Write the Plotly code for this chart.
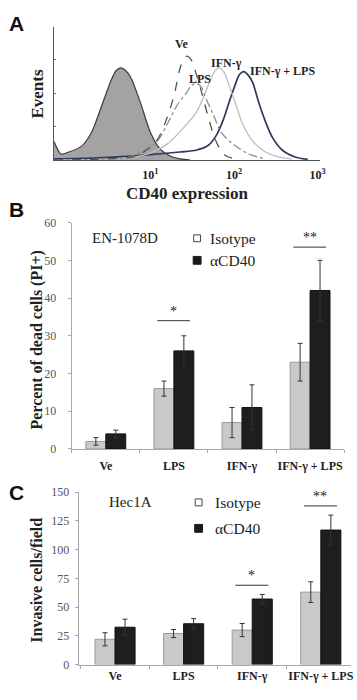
import plotly.graph_objects as go

W, H = 357, 700


def px(x):
    return x / W


def py(y):
    return 1 - y / H


SERIF = "Liberation Serif"
SANS = "Liberation Sans"

# ---------------- Panel A: flow cytometry histograms (CD40 intensity, events %) -------------
iso_x = [0.70, 0.76, 0.85, 1.06, 1.50, 1.97, 2.58, 3.38, 3.88, 4.44, 5.08, 5.82, 7.63, 10.0, 13.1, 17.2, 22.5, 29.6]
iso_y = [14, 9, 4.4, 5.9, 10.3, 20.6, 39.7, 59.6, 66.9, 69, 66.9, 61.8, 42.6, 20.6, 8.1, 2.9, 0.7, 0]

ve_x = [0.70, 2.38, 7.03, 9.22, 11.1, 13.1, 15.8, 19.2, 22.5, 24.4, 27.5, 31.2, 33.8, 40.9, 49.4, 58.2, 70.3, 80.5, 105.6]
ve_y = [0, 0.5, 3, 8.1, 11.8, 19.1, 31.6, 48.5, 68.4, 74.3, 77.9, 74.3, 68.4, 50.7, 31.6, 16.9, 6.6, 2.9, 0.5]

lps_x = [0.70, 2.38, 5.36, 9.22, 12.1, 15.8, 20.8, 27.2, 31.2, 35.7, 40.9, 44.4, 56.6, 70.3, 97.3, 150, 237.7]
lps_y = [0, 0.4, 2, 8, 14, 26.5, 41, 50.7, 55.9, 57.4, 54.5, 48.5, 33.8, 20.6, 11.8, 4.4, 0.7]

ifn_x = [0.70, 2.38, 5.36, 9.22, 15.8, 23.8, 35.7, 50.8, 58.2, 66.6, 76.3, 87.4, 105.6, 127.6, 167.4, 237.7, 338.3, 494.4]
ifn_y = [0, 0.3, 1.5, 4.4, 11.8, 22.8, 36, 58, 66.2, 69, 65.4, 55.9, 41.2, 26.5, 14, 5.9, 2.2, 0.7]

ifnlps_x = [0.70, 2.38, 9.22, 22.5, 35.7, 49.4, 61.4, 74.3, 87.4, 105.6, 114.6, 131.2, 150, 167.4, 196.8, 237.7, 287.6, 376.6, 535.9, 762.3]
ifnlps_y = [0.7, 1.5, 3.7, 5.9, 7.4, 11, 18.4, 30, 43.4, 58, 63.5, 66.2, 63, 58, 43.4, 28.7, 16.9, 7.4, 2.2, 0.4]

a_tickvals = [10, 100, 1000]
a_ticktext = ["10<sup>1</sup>", "10<sup>2</sup>", "10<sup>3</sup>"]

# ---------------- Panels B and C: bar charts ----------------
categories = ["Ve", "LPS", "IFN-γ", "IFN-γ + LPS"]
series_names = ["Isotype", "αCD40"]

b_iso = [2, 16, 7, 23]
b_iso_err = [1, 2, 4, 5]
b_cd40 = [4, 26, 11, 42]
b_cd40_err = [1, 4, 6, 8]
b_ticks = [0, 10, 20, 30, 40, 50, 60]

c_iso = [22, 27, 30, 63]
c_iso_err = [5.7, 3.5, 5.7, 9]
c_cd40 = [32.5, 35.5, 57, 117]
c_cd40_err = [7, 4.5, 4, 13]
c_ticks = [0, 25, 50, 75, 100, 125, 150]

# significance marks: (category index, bar-height value, label)
b_sig = [(1, 34, "*"), (3, 53.5, "**")]
c_sig = [(2, 69, "*"), (3, 138, "**")]

xpos = list(range(len(categories)))

ISO_COLOR = "#c9c9c9"
ISO_LINE = "#9a9a9a"
CD_COLOR = "#1e1e1e"
ERR_COLOR = "#333333"

fig = go.Figure()

# ---- Panel A traces ----
fig.add_trace(go.Scatter(x=iso_x, y=iso_y, mode="lines", line=dict(color="#3a3a3a", width=1.2, shape="spline", smoothing=0.8),
                         fill="tozeroy", fillcolor="#a3a3a3", xaxis="x", yaxis="y", showlegend=False, hoverinfo="skip"))
fig.add_trace(go.Scatter(x=ifnlps_x, y=ifnlps_y, mode="lines", line=dict(color="#2b3a5e", width=1.7, shape="spline", smoothing=0.8),
                         xaxis="x", yaxis="y", showlegend=False, name="IFN-γ + LPS"))
fig.add_trace(go.Scatter(x=ifn_x, y=ifn_y, mode="lines", line=dict(color="#bdbdbd", width=1.3, shape="spline", smoothing=0.8),
                         xaxis="x", yaxis="y", showlegend=False, name="IFN-γ"))
fig.add_trace(go.Scatter(x=lps_x, y=lps_y, mode="lines", line=dict(color="#888888", width=1.2, dash="dashdot", shape="spline", smoothing=0.8),
                         xaxis="x", yaxis="y", showlegend=False, name="LPS"))
fig.add_trace(go.Scatter(x=ve_x, y=ve_y, mode="lines", line=dict(color="#555555", width=1.3, dash="dash", shape="spline", smoothing=0.8),
                         xaxis="x", yaxis="y", showlegend=False, name="Ve"))

# ---- Panel B & C bars ----
for (iso, iso_e, cd, cd_e, xa, ya) in [(b_iso, b_iso_err, b_cd40, b_cd40_err, "x2", "y2"),
                                       (c_iso, c_iso_err, c_cd40, c_cd40_err, "x3", "y3")]:
    fig.add_trace(go.Bar(x=xpos, y=iso, name=series_names[0], marker=dict(color=ISO_COLOR, line=dict(color=ISO_LINE, width=1)),
                         error_y=dict(type="data", array=iso_e, color=ERR_COLOR, thickness=1, width=2.5),
                         xaxis=xa, yaxis=ya, showlegend=False, offsetgroup="iso"))
    fig.add_trace(go.Bar(x=xpos, y=cd, name=series_names[1], marker=dict(color=CD_COLOR, line=dict(color="#111111", width=1)),
                         error_y=dict(type="data", array=cd_e, color=ERR_COLOR, thickness=1, width=2.5),
                         xaxis=xa, yaxis=ya, showlegend=False, offsetgroup="cd"))

shapes = []
annotations = []

# significance lines and stars
for sig, xa, ya in [(b_sig, "x2", "y2"), (c_sig, "x3", "y3")]:
    for ci, yv, lab in sig:
        shapes.append(dict(type="line", xref=xa, yref=ya, x0=ci - 0.245, x1=ci + 0.235, y0=yv, y1=yv,
                           line=dict(color="#333333", width=1)))
        annotations.append(dict(xref=xa, yref=ya, x=ci - 0.005, y=yv, text=lab, showarrow=False, yanchor="bottom",
                                yshift=0, font=dict(family=SERIF, size=14, color="#222222")))

# Panel A curve labels
for txt, x, y, anchor in [("Ve", 185, 38, "center"), ("LPS", 203, 73, "center"), ("IFN-γ", 230, 57, "center"),
                          ("IFN-γ + LPS", 252, 65, "left")]:
    annotations.append(dict(xref="paper", yref="paper", x=px(x), y=py(y), text=txt, showarrow=False, xanchor=anchor,
                            yanchor="middle", font=dict(family=SERIF, size=12, color="#222222", weight="bold")))

# Panel letters
for txt, x, y in [("A", 17, 17), ("B", 17, 207), ("C", 17, 495)]:
    annotations.append(dict(xref="paper", yref="paper", x=px(x), y=py(y), text=txt, showarrow=False,
                            xanchor="center", yanchor="middle",
                            font=dict(family=SANS, size=21, color="#111111", weight="bold")))

# axis titles
annotations.append(dict(xref="paper", yref="paper", x=px(38), y=py(88), text="Events", showarrow=False, textangle=-90,
                        xanchor="center", yanchor="middle", font=dict(family=SERIF, size=17, color="#222222", weight="bold")))
annotations.append(dict(xref="paper", yref="paper", x=px(191), y=py(190), text="CD40 expression", showarrow=False,
                        xanchor="center", yanchor="middle", font=dict(family=SERIF, size=17, color="#222222", weight="bold")))
annotations.append(dict(xref="paper", yref="paper", x=px(38), y=py(340), text="Percent of dead cells (PI+)", showarrow=False,
                        textangle=-90, xanchor="center", yanchor="middle",
                        font=dict(family=SERIF, size=16, color="#222222", weight="bold")))
annotations.append(dict(xref="paper", yref="paper", x=px(37), y=py(585), text="Invasive cells/field", showarrow=False,
                        textangle=-90, xanchor="center", yanchor="middle",
                        font=dict(family=SERIF, size=16, color="#222222", weight="bold")))

# cell line labels
annotations.append(dict(xref="paper", yref="paper", x=px(92), y=py(236), text="EN-1078D", showarrow=False,
                        xanchor="left", yanchor="middle", font=dict(family=SERIF, size=15, color="#222222")))
annotations.append(dict(xref="paper", yref="paper", x=px(109), y=py(505), text="Hec1A", showarrow=False,
                        xanchor="left", yanchor="middle", font=dict(family=SERIF, size=15, color="#222222")))

# manual legends
for (bx, by1, by2, tx) in [(200.5, 236, 258.5, 212), (202, 505.5, 532, 217)]:
    shapes.append(dict(type="rect", xref="paper", yref="paper", x0=px(bx - 3.5), x1=px(bx + 3.5), y0=py(by1 + 3.5), y1=py(by1 - 3.5),
                       fillcolor="white", line=dict(color="#444444", width=1)))
    shapes.append(dict(type="rect", xref="paper", yref="paper", x0=px(bx - 4), x1=px(bx + 4), y0=py(by2 + 4), y1=py(by2 - 4),
                       fillcolor="#1a1a1a", line=dict(color="#1a1a1a", width=1)))
    annotations.append(dict(xref="paper", yref="paper", x=px(tx), y=py(by1), text=series_names[0], showarrow=False,
                            xanchor="left", yanchor="middle", font=dict(family=SERIF, size=15.5, color="#222222")))
    annotations.append(dict(xref="paper", yref="paper", x=px(tx), y=py(by2), text=series_names[1], showarrow=False,
                            xanchor="left", yanchor="middle", font=dict(family=SERIF, size=15.5, color="#222222")))

AX_GRAY = "#a8a8a8"
tickfont = dict(family=SERIF, size=12, color="#555555")
xcatfont = dict(family=SERIF, size=12, color="#222222", weight="bold")

fig.update_layout(
    width=W, height=H, margin=dict(l=0, r=0, t=0, b=0, pad=0),
    paper_bgcolor="white", plot_bgcolor="white",
    barmode="group", bargap=0.415, bargroupgap=0,
    showlegend=False,
    shapes=shapes, annotations=annotations,
    xaxis=dict(domain=[px(55), px(325)], anchor="y", type="log", range=[-0.153, 3.023],
               tickvals=a_tickvals, ticktext=a_ticktext, ticks="", showgrid=False, zeroline=False,
               showline=True, linecolor="#555555", linewidth=1,
               tickfont=dict(family=SERIF, size=12, color="#222222", weight="bold"), ticklabelstandoff=4),
    yaxis=dict(domain=[py(156), py(20)], anchor="x", range=[0, 100], showticklabels=False,
               tickvals=[25, 50, 75, 100], ticks="inside", ticklen=2, tickcolor="#777777",
               showgrid=False, zeroline=False, showline=True, linecolor="#555555", linewidth=1),
    xaxis2=dict(domain=[px(73), px(350)], anchor="y2", range=[-0.5, 3.5], tickvals=xpos, ticktext=categories,
                ticks="", showgrid=False, zeroline=False, showline=True, linecolor=AX_GRAY, linewidth=1,
                tickfont=xcatfont, ticklabelstandoff=6,
                minor=dict(tickvals=[-0.5, 0.5, 1.5, 2.5, 3.5], ticks="outside", ticklen=3, tickcolor=AX_GRAY)),
    yaxis2=dict(domain=[py(451), py(220)], anchor="x2", range=[0, 60], tickvals=b_ticks, ticks="outside",
                ticklen=3, tickcolor=AX_GRAY, showgrid=False, zeroline=False, showline=True, linecolor=AX_GRAY,
                linewidth=1, tickfont=tickfont, ticklabelstandoff=9),
    xaxis3=dict(domain=[px(80), 1.0], anchor="y3", range=[-0.53, 3.44], tickvals=xpos, ticktext=categories,
                ticks="", showgrid=False, zeroline=False, showline=True, linecolor=AX_GRAY, linewidth=1,
                tickfont=xcatfont, ticklabelstandoff=0,
                minor=dict(tickvals=[-0.5, 0.5, 1.5, 2.5, 3.5], ticks="outside", ticklen=3, tickcolor=AX_GRAY)),
    yaxis3=dict(domain=[py(671), py(495)], anchor="x3", range=[0, 150], tickvals=c_ticks, ticks="outside",
                ticklen=3, tickcolor=AX_GRAY, showgrid=False, zeroline=False, showline=True, linecolor=AX_GRAY,
                linewidth=1, tickfont=tickfont, ticklabelstandoff=3),
)

fig.write_html("out.html")
